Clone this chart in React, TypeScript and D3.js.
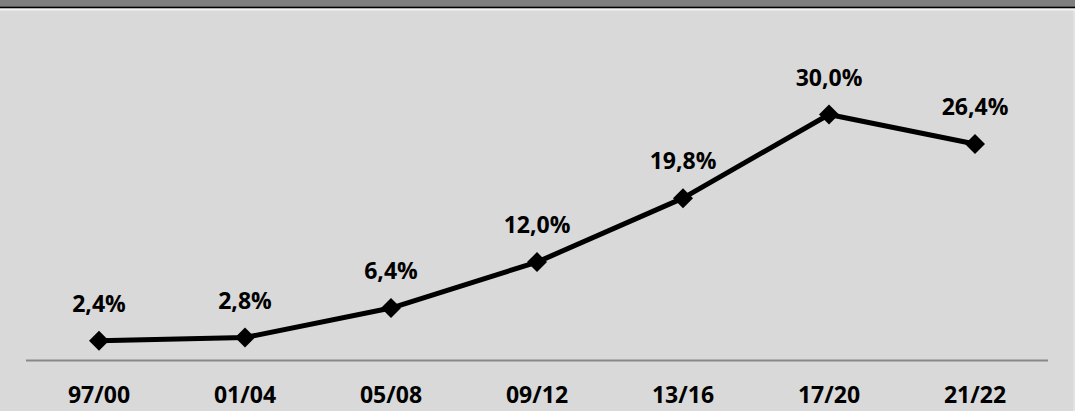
import React, { useEffect } from "react";
import * as d3 from "d3";

const categories = ["97/00", "01/04", "05/08", "09/12", "13/16", "17/20", "21/22"];
const values = [2.4, 2.8, 6.4, 12.0, 19.8, 30.0, 26.4];
const valueLabels = ["2,4%", "2,8%", "6,4%", "12,0%", "19,8%", "30,0%", "26,4%"];

const W = 1075;
const H = 411;

export default function App() {
  useEffect(() => {
    document.body.style.margin = "0";
  }, []);
  const x = d3.scaleBand<string>().domain(categories).range([26, 1048]);
  const y = d3.scaleLinear().domain([0, 35]).range([360.5, 73.5]);
  const line = d3
    .line<number>()
    .x((_, i) => (x(categories[i]) as number) + x.bandwidth() / 2)
    .y((d) => y(d));
  const font = "'Open Sans', sans-serif";
  return (
    <svg width={W} height={H} style={{ position: "absolute", left: 0, top: 0, display: "block" }}>
      <rect x={0} y={0} width={W} height={H} fill="#d9d9d9" />
      <rect x={W - 2} y={0} width={2} height={H} fill="#e2e2e2" />
      <rect x={0} y={0} width={W} height={6.5} fill="#7f7f7f" />
      <rect x={0} y={6.5} width={W} height={2} fill="#000" />
      <rect x={0} y={8.5} width={W} height={2} fill="#f4f4f4" />
      <line x1={x.range()[0]} x2={x.range()[1]} y1={y(0)} y2={y(0)} stroke="#898989" strokeWidth={2} />
      <path d={line(values) || ""} fill="none" stroke="#000" strokeWidth={5} strokeLinejoin="round" />
      {values.map((v, i) => {
        const cx = (x(categories[i]) as number) + x.bandwidth() / 2;
        const cy = y(v);
        const r = 10;
        return (
          <g key={i}>
            <path d={`M${cx},${cy - r}L${cx + r},${cy}L${cx},${cy + r}L${cx - r},${cy}Z`} fill="#000" />
            <text x={cx} y={cy - 29} textAnchor="middle" fontFamily={font} fontWeight={700} fontSize={23} fill="#000">
              {valueLabels[i]}
            </text>
          </g>
        );
      })}
      {categories.map((c) => (
        <text
          key={c}
          x={(x(c) as number) + x.bandwidth() / 2}
          y={403}
          textAnchor="middle"
          fontFamily={font}
          fontWeight={700}
          fontSize={23}
          fill="#000"
        >
          {c}
        </text>
      ))}
    </svg>
  );
}
